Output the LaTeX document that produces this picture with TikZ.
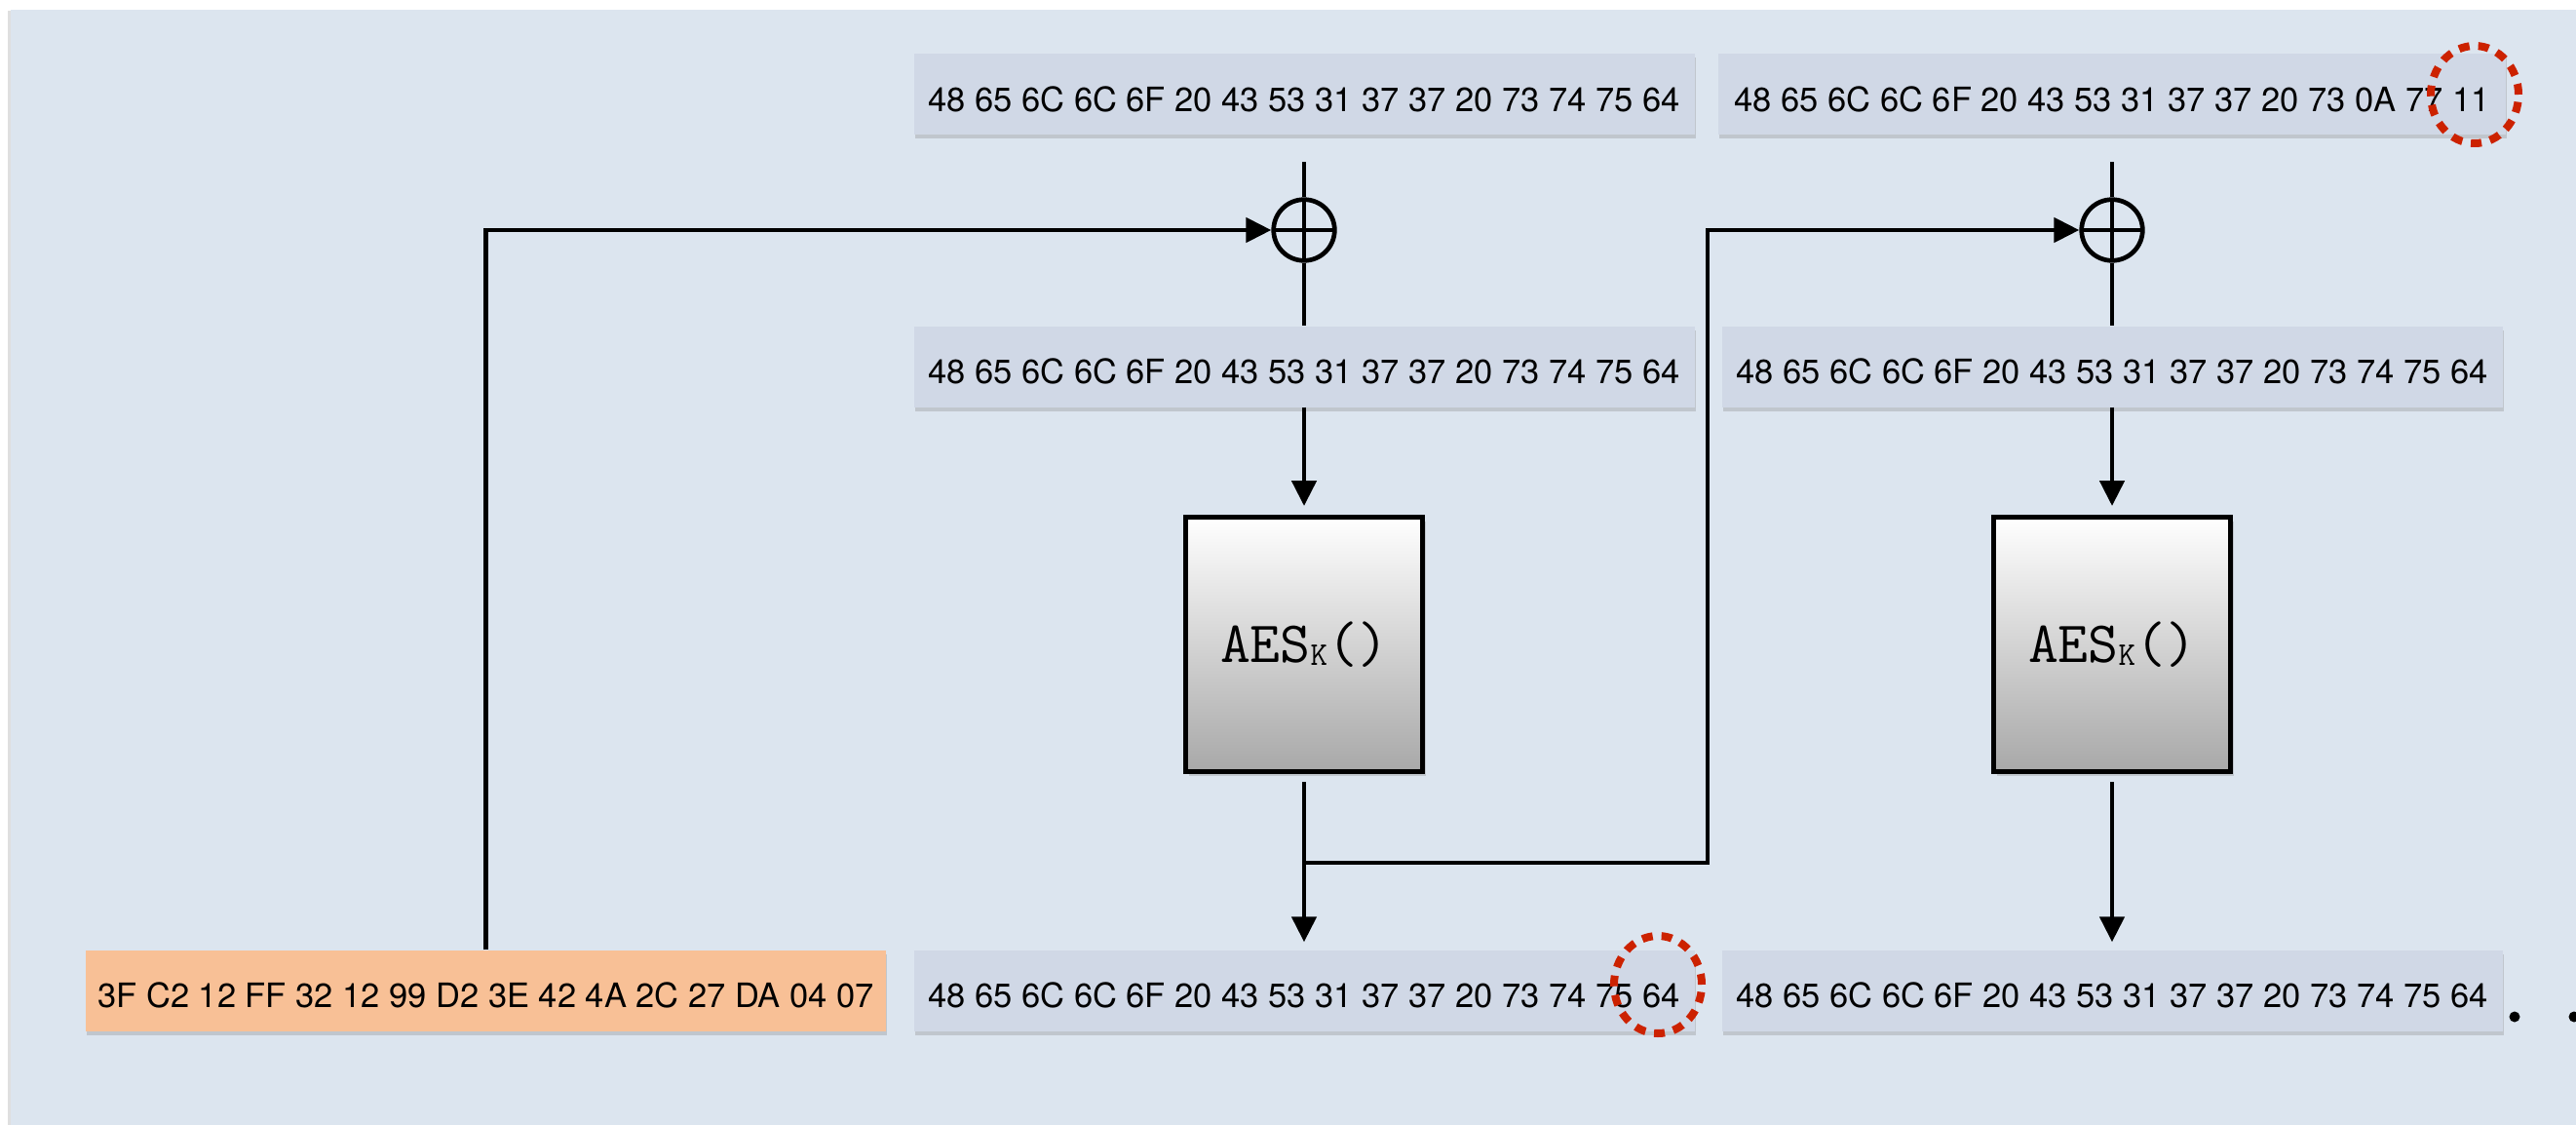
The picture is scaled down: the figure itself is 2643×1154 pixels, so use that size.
\documentclass[tikz,border=0pt]{standalone}
\usepackage{fontspec}
\setmainfont{TeX Gyre Heros}
\usetikzlibrary{arrows.meta,shadows}
\definecolor{bgcol}{HTML}{DCE5EF}
\definecolor{bytecol}{HTML}{D0D8E6}
\definecolor{ivcol}{HTML}{F8C096}
\definecolor{markcol}{HTML}{CC2200}
\definecolor{aescol}{HTML}{A8A8A8}
\tikzset{
	bytes/.style={fill=bytecol,minimum width=801pt,minimum height=83pt,inner sep=0pt,
		text height=35pt,text depth=0pt,font=\fontsize{34.5}{40}\selectfont,
		drop shadow={opacity=0.3,shadow xshift=1pt,shadow yshift=-4pt}},
	aesbox/.style={draw,line width=5pt,minimum width=243pt,minimum height=261pt,inner sep=0pt,
		top color=white,bottom color=aescol,font=\ttfamily\fontsize{60}{64}\selectfont,
		drop shadow={opacity=0.3,shadow xshift=3pt,shadow yshift=-4pt}},
	xorop/.style={circle,draw,line width=4.7pt,minimum size=62.6pt,inner sep=0pt,
		path picture={\draw[line width=4.7pt] (path picture bounding box.west) -- (path picture bounding box.east)
			(path picture bounding box.north) -- (path picture bounding box.south);}},
	wire/.style={line width=4.7pt},
	arr/.style={wire,-{Triangle[length=26pt,width=25pt]}},
	hilite/.style={draw=markcol,line width=8pt,dash pattern=on 11pt off 9pt}
}
\begin{document}
\begin{tikzpicture}[x=1pt,y=-1pt]
\useasboundingbox (0,0) rectangle (2643,1154);
\fill[bgcol,drop shadow={opacity=0.25,shadow xshift=-3pt,shadow yshift=-1pt}] (11,10) rectangle (2700,1200);
\node[bytes] (pt1) at (1338,96.5) {48 65 6C 6C 6F 20 43 53 31 37 37 20 73 74 75 64};
\node[bytes,minimum width=808pt] (pt2) at (2167,96.5) {48 65 6C 6C 6F 20 43 53 31 37 37 20 73 0A 77 11};
\node[bytes,fill=ivcol,minimum width=821pt] (iv) at (498.5,1016) {3F C2 12 FF 32 12 99 D2 3E 42 4A 2C 27 DA 04 07};
\foreach \x [count=\i] in {1338,2167}{
	\node[xorop] (xor\i) at (\x,236) {};
	\node[bytes] (mid\i) at (\x,376) {48 65 6C 6C 6F 20 43 53 31 37 37 20 73 74 75 64};
	\node[aesbox] (aes\i) at (\x,661) {AES\raisebox{-3pt}{\fontsize{34}{34}\selectfont K}()};
	\node[bytes] (ct\i) at (\x,1016) {48 65 6C 6C 6F 20 43 53 31 37 37 20 73 74 75 64};
	\draw[wire,shorten <=28pt] (pt\i) -- (xor\i);
	\draw[wire] (xor\i) -- (mid\i);
	\draw[arr,shorten >=9pt] (mid\i) -- (aes\i);
	\draw[arr,shorten <=8pt,shorten >=8pt] (aes\i) -- (ct\i);
	}
\draw[arr] (iv.north) |- (xor1);
\coordinate (split) at (1338,885);
\coordinate (bend) at (1752,885);
\draw[arr] (split) -- (bend) |- (xor2);
\draw[hilite] (2539,97) ellipse [x radius=45pt,y radius=50pt];
\draw[hilite] (1701,1010) ellipse [x radius=45pt,y radius=50pt];
\foreach \x in {2580,2641}
	\fill (\x,1043) circle [radius=5.5pt];
\end{tikzpicture}
\end{document}
